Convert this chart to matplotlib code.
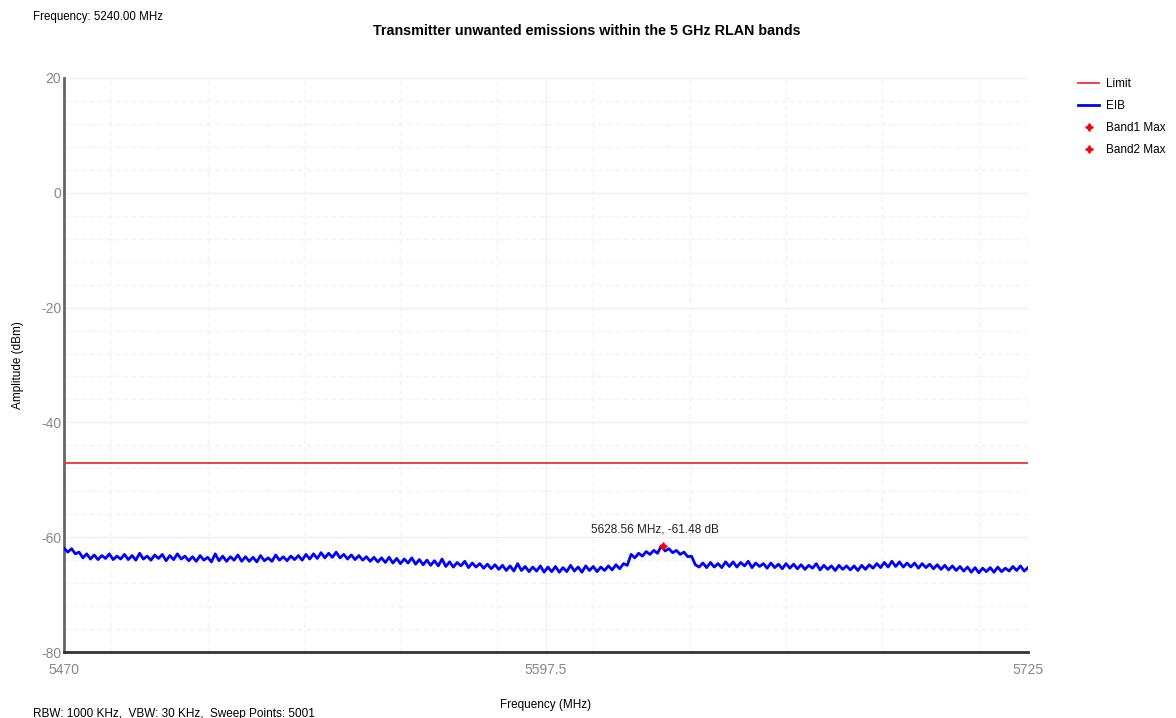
import numpy as np
import matplotlib
matplotlib.use("Agg")
import matplotlib.pyplot as plt
from matplotlib.ticker import MultipleLocator, FixedLocator

plt.rcParams['font.family'] = ['Liberation Sans', 'DejaVu Sans']
plt.rcParams['axes.unicode_minus'] = False

# Sweep settings / limits
f_start, f_stop = 5470.0, 5725.0
limit_level = -47.0
x_ticks = [5470, 5597.5, 5725]
y_ticks = [-80, -60, -40, -20, 0, 20]

# EIB trace, one reading per MHz from 5470 to 5725 (dBm)
eib_levels = [
    -61.9, -62.6, -62.0, -62.9, -62.6, -63.6, -62.9, -63.8, -63.1, -63.9, -63.2, -63.7, -62.9, -63.9, -63.3, -63.8,
    -63.0, -63.9, -63.2, -64.0, -62.8, -63.8, -63.3, -64.0, -63.1, -63.7, -63.0, -64.1, -63.2, -63.9, -62.9, -63.8,
    -63.3, -64.1, -63.4, -64.2, -63.2, -64.0, -63.5, -64.3, -62.9, -64.1, -63.3, -64.2, -63.4, -64.0, -63.1, -64.2,
    -63.4, -64.2, -63.5, -64.3, -63.2, -64.1, -63.6, -64.2, -63.1, -64.0, -63.4, -64.1, -63.3, -63.9, -63.2, -64.0,
    -63.0, -63.8, -62.9, -63.7, -62.7, -63.6, -62.8, -63.5, -62.6, -63.6, -63.0, -63.8, -63.1, -63.9, -63.2, -64.0,
    -63.4, -64.2, -63.5, -64.3, -63.6, -64.4, -63.5, -64.5, -63.7, -64.6, -63.8, -64.5, -63.6, -64.7, -63.9, -64.8,
    -64.0, -64.9, -64.1, -65.0, -63.8, -65.1, -64.3, -65.2, -64.4, -65.0, -64.2, -65.3, -64.5, -65.2, -64.6, -65.4,
    -64.7, -65.5, -64.8, -65.6, -64.9, -65.8, -65.0, -65.9, -64.6, -65.8, -65.1, -66.0, -65.2, -65.9, -65.0, -66.1,
    -65.2, -66.0, -65.1, -66.1, -65.3, -66.0, -64.9, -65.9, -65.2, -66.1, -65.0, -65.8, -65.1, -66.0, -65.2, -65.8,
    -65.0, -65.7, -64.8, -65.5, -64.6, -64.9, -63.0, -63.6, -62.8, -63.3, -62.5, -63.0, -62.3, -62.8, -61.5, -62.4,
    -62.0, -62.7, -62.3, -63.0, -62.6, -63.4, -63.3, -64.8, -65.2, -64.5, -65.3, -64.4, -65.2, -64.6, -65.3, -64.3,
    -65.1, -64.3, -65.2, -64.4, -65.0, -64.2, -65.3, -64.5, -65.1, -64.6, -65.4, -64.5, -65.3, -64.7, -65.5, -64.6,
    -65.4, -64.7, -65.5, -64.8, -65.6, -64.9, -65.4, -64.6, -65.7, -64.9, -65.6, -65.0, -65.8, -64.9, -65.6, -65.0,
    -65.7, -65.0, -65.8, -64.9, -65.6, -64.8, -65.4, -64.6, -65.3, -64.4, -65.2, -64.2, -65.1, -64.3, -65.2, -64.5,
    -65.2, -64.5, -65.4, -64.6, -65.3, -64.7, -65.5, -64.8, -65.6, -64.9, -65.7, -65.0, -65.8, -65.1, -65.9, -65.2,
    -66.1, -65.3, -66.2, -65.4, -66.0, -65.3, -66.1, -65.2, -66.0, -65.4, -65.9, -65.1, -65.8, -65.0, -65.9, -65.3,
]
eib_freqs = np.linspace(f_start, f_stop, len(eib_levels))

# Band maxima (MHz, dB)
band1_max = (5628.56, -61.48)
band2_max = ([], [])

fig = plt.figure(figsize=(11.76, 7.18), dpi=100)
ax = fig.add_axes([64 / 1176, 1 - 652 / 718, (1028 - 64) / 1176, (652 - 78) / 718])

ax.plot([f_start, f_stop], [limit_level, limit_level], color='#f03030', lw=1.3, label='Limit', zorder=3)
ax.plot(eib_freqs, eib_levels, color='#0000ff', lw=2.0, label='EIB', zorder=4)

star = (4, 1, 0)
ax.plot([band1_max[0]], [band1_max[1]], ls='none', marker=star, ms=5.5, color='#ff0000',
        label='Band1 Max', zorder=5)
ax.plot(band2_max[0], band2_max[1], ls='none', marker=star, ms=5.5, color='#ff0000', label='Band2 Max')
ax.text(band1_max[0] - 2.2, -58.7, f"{band1_max[0]:.2f} MHz, {band1_max[1]:.2f} dB",
        ha='center', va='center', fontsize=8.5, color='#222222')

ax.set_xlim(f_start, f_stop)
ax.set_ylim(-80, 20)
ax.xaxis.set_major_locator(FixedLocator(x_ticks))
ax.xaxis.set_minor_locator(MultipleLocator(25.5))
ax.yaxis.set_major_locator(FixedLocator(y_ticks))
ax.yaxis.set_minor_locator(MultipleLocator(4))
ax.set_xticklabels(['5470', '5597.5', '5725'])

ax.grid(which='major', color='#f0f0f0', lw=1.0, ls='-')
ax.grid(which='minor', color='#f4f4f4', lw=1.0, ls=(0, (4, 2)))
ax.set_axisbelow(True)

ax.tick_params(which='both', length=0, labelsize=10, labelcolor='#888888')
ax.tick_params(axis='x', pad=8)
ax.tick_params(axis='y', pad=2)

for side in ['top', 'right']:
    ax.spines[side].set_visible(False)
ax.spines['left'].set_color('#666666')
ax.spines['left'].set_linewidth(2)
ax.spines['bottom'].set_color('#333333')
ax.spines['bottom'].set_linewidth(2)

ax.set_xlabel('Frequency (MHz)', fontsize=8.5, labelpad=16)
ax.set_ylabel('Amplitude (dBm)', fontsize=8.5, labelpad=12)

fig.text(587 / 1176, 1 - 31 / 718, 'Transmitter unwanted emissions within the 5 GHz RLAN bands',
         ha='center', va='center', fontsize=10.3, fontweight='bold')
fig.text(33 / 1176, 1 - 17 / 718, 'Frequency: 5240.00 MHz', ha='left', va='center', fontsize=8.3)
fig.text(33 / 1176, 1 - 714 / 718, 'RBW: 1000 KHz,  VBW: 30 KHz,  Sweep Points: 5001',
         ha='left', va='center', fontsize=8.5)

leg = ax.legend(loc='upper left', bbox_to_anchor=(1.047, 1.008), frameon=False, fontsize=8.5,
                handlelength=1.8, handletextpad=0.6, labelspacing=0.85, borderaxespad=0)

fig.savefig('out.png', dpi=100)
